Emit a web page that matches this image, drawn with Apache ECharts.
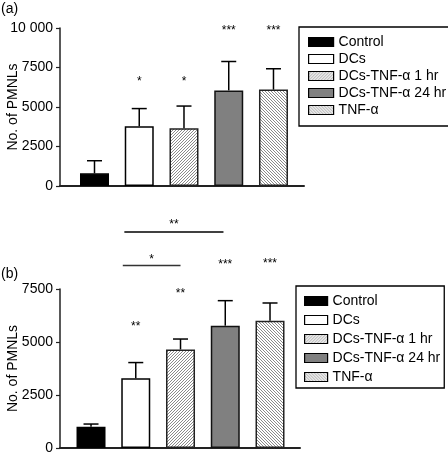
<!DOCTYPE html>
<html>
<head>
<meta charset="utf-8">
<script src="https://cdn.jsdelivr.net/npm/echarts@6/dist/echarts.min.js"></script>
<style>html,body{margin:0;padding:0;background:#fff}#c{width:448px;height:458px}</style>
</head>
<body>
<div id="c"></div>
<script>
// ---- data ----
const categories = ['Control', 'DCs', 'DCs-TNF-α 1 hr', 'DCs-TNF-α 24 hr', 'TNF-α'];
const meansA = [800, 3780, 3650, 6050, 6100];
const upperA = [1600, 4900, 5060, 7880, 7420];
const starsA = ['', '*', '*', '***', '***'];
const starsAy = [null, 6770, 6770, 10000, 10000];
const ticksA = ['0', '2500', '5000', '7500', '10 000'];

const meansB = [1000, 3290, 4650, 5770, 6000];
const upperB = [1130, 4030, 5140, 6950, 6840];
const starsB = ['', '**', '**', '***', '***'];
const starsBy = [null, 5850, 7420, 8800, 8850];
const ticksB = ['0', '2500', '5000', '7500'];
const bracketFrom = [0.71, 0.745];
const bracketTo = [2.0, 2.96];
const bracketY = [8610, 10190];
const bracketLabel = ['*', '**'];
const bracketLabelY = [9040, 10690];

const FONT = '"Liberation Sans", Arial, Helvetica, sans-serif';

function hatch(dir) {
  const c = document.createElement('canvas');
  c.width = 3; c.height = 3;
  const g = c.getContext('2d');
  g.fillStyle = '#ffffff'; g.fillRect(0, 0, 3, 3);
  g.fillStyle = '#8a8a8a';
  for (let i = 0; i < 3; i++) {
    const y = dir > 0 ? 2 - i : i;
    g.fillRect(i, y, 1, 1);
  }
  return { image: c, repeat: 'repeat' };
}
const fills = ['#000000', '#ffffff', hatch(1), '#808080', hatch(-1)];
const borders = ['#000', '#000', '#222', '#111', '#222'];

function barSeries(panel, means) {
  return categories.map((name, i) => ({
    name: name,
    type: 'bar',
    xAxisIndex: panel, yAxisIndex: panel,
    barWidth: 29,
    barGap: '-100%',
    itemStyle: { color: fills[i], borderColor: borders[i], borderWidth: 1.5 },
    emphasis: { disabled: true },
    data: [[i, means[i]]],
    z: 2
  }));
}

function errSeries(panel, means, upper) {
  return {
    type: 'custom', xAxisIndex: panel, yAxisIndex: panel, z: 3, silent: true,
    data: means.map((m, i) => [i, m, upper[i]]),
    renderItem: function (params, api) {
      const p0 = api.coord([api.value(0), api.value(1)]);
      const p1 = api.coord([api.value(0), api.value(2)]);
      const st = { stroke: '#000', lineWidth: 1.5 };
      return { type: 'group', children: [
        { type: 'line', shape: { x1: p0[0], y1: p0[1], x2: p1[0], y2: p1[1] }, style: st },
        { type: 'line', shape: { x1: p1[0] - 7.5, y1: p1[1], x2: p1[0] + 7.5, y2: p1[1] }, style: st }
      ]};
    }
  };
}

function starSeries(panel, labels, ys) {
  return {
    type: 'custom', xAxisIndex: panel, yAxisIndex: panel, z: 4, silent: true, clip: false,
    data: labels.map((l, i) => [i, ys[i] == null ? 0 : ys[i], l]),
    renderItem: function (params, api) {
      const lab = labels[params.dataIndex];
      if (!lab) return null;
      const p = api.coord([api.value(0), api.value(1)]);
      return { type: 'text', x: p[0], y: p[1] + 3,
        style: { text: lab, fill: '#000', font: '12px ' + FONT, align: 'center', verticalAlign: 'middle' } };
    }
  };
}

const bracketSeries = {
  type: 'custom', xAxisIndex: 1, yAxisIndex: 1, z: 4, silent: true, clip: false,
  data: bracketFrom.map((f, i) => [f, bracketTo[i], bracketY[i], bracketLabelY[i]]),
  renderItem: function (params, api) {
    const i = params.dataIndex;
    const a = api.coord([api.value(0), api.value(2)]);
    const b = api.coord([api.value(1), api.value(2)]);
    const t = api.coord([(api.value(0) + api.value(1)) / 2, api.value(3)]);
    return { type: 'group', children: [
      { type: 'line', shape: { x1: a[0], y1: a[1], x2: b[0], y2: b[1] }, style: { stroke: i === 0 ? '#333' : '#000', lineWidth: 1.5 } },
      { type: 'text', x: t[0], y: t[1] + 3, style: { text: bracketLabel[i], fill: '#000', font: '12px ' + FONT, align: 'center', verticalAlign: 'middle' } }
    ]};
  }
};

function yAxis(gridIndex, max, ticks) {
  return {
    type: 'value', gridIndex: gridIndex, min: 0, max: max, interval: 2500,
    name: 'No. of PMNLs', nameLocation: 'middle', nameGap: 40, nameMoveOverlap: false,
    nameTextStyle: { color: '#000', fontSize: 14, fontFamily: FONT },
    axisLine: { show: true, onZero: false, lineStyle: { color: '#222', width: 1.5 } },
    axisTick: { show: true, length: 4, lineStyle: { color: '#222', width: 1.2 } },
    axisLabel: { color: '#000', fontSize: 14, fontFamily: FONT, margin: 7,
      formatter: function (v) { return ticks[Math.round(v / 2500)]; } },
    splitLine: { show: false }
  };
}
function xAxis(gridIndex, min, max) {
  return {
    type: 'value', gridIndex: gridIndex, min: min, max: max,
    axisLine: { show: true, onZero: false, lineStyle: { color: '#222', width: 2 } },
    axisTick: { show: false }, axisLabel: { show: false }, splitLine: { show: false }
  };
}
function legend(top, left, gap, iw, pad) {
  return {
    data: categories, top: top, left: left, orient: 'vertical', icon: 'rect',
    itemWidth: iw, itemHeight: 9, itemGap: gap, padding: pad,
    borderColor: '#000', borderWidth: 1.3, backgroundColor: '#fff',
    selectedMode: false,
    itemStyle: { borderColor: '#000', borderWidth: 1.2 },
    textStyle: { color: '#000', fontSize: 14, fontFamily: FONT, lineHeight: 14 }
  };
}

const chart = echarts.init(document.getElementById('c'), null, { renderer: 'canvas' });
chart.setOption({
  animation: false,
  backgroundColor: '#fff',
  textStyle: { fontFamily: FONT },
  title: [
    { text: '(a)', left: 1, top: 2, textStyle: { fontSize: 14, fontWeight: 'normal', color: '#000', fontFamily: FONT }, padding: 0 },
    { text: '(b)', left: 1, top: 267, textStyle: { fontSize: 14, fontWeight: 'normal', color: '#000', fontFamily: FONT }, padding: 0 }
  ],
  grid: [
    { left: 60, top: 28, width: 244, height: 158, containLabel: false, outerBoundsMode: 'none' },
    { left: 60, top: 289, width: 240, height: 159, containLabel: false, outerBoundsMode: 'none' }
  ],
  xAxis: [xAxis(0, -0.771, 4.682), xAxis(1, -0.693, 4.67)],
  yAxis: [yAxis(0, 10000, ticksA), yAxis(1, 7500, ticksB)],
  legend: [
    legend(27, 299, 3, 25, [8, 4, 9, 9]),
    legend(286, 296, 5, 23, [8, 4, 4, 8])
  ],
  series: [].concat(
    barSeries(0, meansA),
    [errSeries(0, meansA, upperA), starSeries(0, starsA, starsAy)],
    barSeries(1, meansB),
    [errSeries(1, meansB, upperB), starSeries(1, starsB, starsBy), bracketSeries]
  )
});
</script>
</body>
</html>
